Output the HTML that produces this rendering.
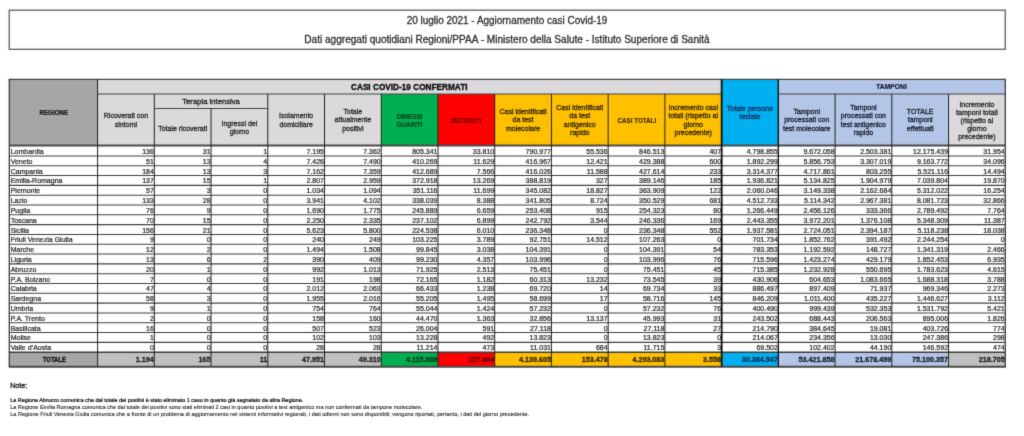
<!DOCTYPE html>
<html><head><meta charset="utf-8"><title>Covid-19 20 luglio 2021</title>
<style>
html,body{margin:0;padding:0;background:#fff;}
body{width:1024px;height:436px;overflow:hidden;position:relative;font-family:"Liberation Sans",Arial,sans-serif;color:#222;}
.b,.ln,.h,.d{position:absolute;box-sizing:border-box;}
.grid{position:absolute;left:0;top:0;}
#wrap{position:absolute;left:0;top:0;width:1024px;height:436px;background:#fff;filter:url(#sb);}
.h,.d,.t1,.t2,.note{-webkit-text-stroke:0.2px currentColor;}
.t1,.t2{-webkit-text-stroke:0.3px currentColor;}
.h{padding-top:2.0px;-webkit-text-stroke:0.3px currentColor;}
.h{display:flex;align-items:center;justify-content:center;text-align:center;font-size:7px;line-height:8.4px;white-space:nowrap;overflow:hidden;color:#1e1e1e;}
.h.mid{font-size:7.7px;}
.h.big{font-size:8.8px;}
.h.reg{font-size:6.85px;}
.h.tam{font-size:6.85px;}
.bold{font-weight:bold;}
.h.bold{color:#141414;-webkit-text-stroke:0.2px currentColor;}
.h.tam{color:#151a2a;}
.h.hb{font-size:7px;-webkit-text-stroke:0.1px currentColor;}
.h.big{-webkit-text-stroke:0.35px currentColor;color:#0e0e0e;}
.d{font-size:7px;white-space:nowrap;overflow:visible;padding:0 0.5px 0 1.4px;color:#2a2a2a;}
.d.r{text-align:right;}
.d.l{text-align:left;}
.d.c{text-align:center;}
.d.tb{font-size:7.2px;padding-right:0.5px;}
.d.tt{font-size:6.85px;}
.d.bold{color:#111;-webkit-text-stroke:0.3px currentColor;}
.d{-webkit-text-stroke:0.24px currentColor;}
.hdr{position:absolute;left:8.8px;top:10.1px;width:997px;height:39.3px;border:1.3px solid #5e5e5e;box-sizing:border-box;}
.t1,.t2{position:absolute;left:0;width:1014px;text-align:center;white-space:nowrap;color:#2e2e2e;line-height:12px;}
.t1{top:14.9px;font-size:10.4px;transform:scaleX(0.957);transform-origin:507px 0;}
.t2{top:34.4px;font-size:10.05px;}
.note{position:absolute;left:10.2px;white-space:nowrap;color:#262626;line-height:6.5px;-webkit-text-stroke:0.1px currentColor !important;}
.note.n1{color:#111;-webkit-text-stroke:0.22px currentColor !important;}
.note.n0{color:#161616;-webkit-text-stroke:0.3px currentColor !important;}
</style></head><body><svg width="0" height="0" style="position:absolute"><filter id="sb" x="0" y="0" width="100%" height="100%" color-interpolation-filters="sRGB"><feConvolveMatrix order="3" kernelMatrix="0.015 0.085 0.015 0.085 0.6 0.085 0.015 0.085 0.015" edgeMode="duplicate" preserveAlpha="true"/></filter></svg><div id="wrap">
<div class="t1">20 luglio 2021 - Aggiornamento casi Covid-19</div>
<div class="t2">Dati aggregati quotidiani Regioni/PPAA - Ministero della Salute - Istituto Superiore di Sanità</div>
<div class="b" style="left:9.30px;top:79.35px;width:88.30px;height:66.10px;background:#a7a5a7;"></div>
<div class="b" style="left:97.60px;top:79.35px;width:624.03px;height:14.61px;background:#dbd9db;"></div>
<div class="b" style="left:721.63px;top:79.35px;width:56.73px;height:66.10px;background:#00b0f0;"></div>
<div class="b" style="left:778.36px;top:79.35px;width:226.92px;height:14.61px;background:#b4c6e7;"></div>
<div class="b" style="left:97.60px;top:93.96px;width:56.73px;height:51.49px;background:#dbd9db;"></div>
<div class="b" style="left:154.33px;top:93.96px;width:56.73px;height:51.49px;background:#dbd9db;"></div>
<div class="b" style="left:211.06px;top:93.96px;width:56.73px;height:51.49px;background:#dbd9db;"></div>
<div class="b" style="left:267.79px;top:93.96px;width:56.73px;height:51.49px;background:#dbd9db;"></div>
<div class="b" style="left:324.52px;top:93.96px;width:56.73px;height:51.49px;background:#dbd9db;"></div>
<div class="b" style="left:381.25px;top:93.96px;width:56.73px;height:51.49px;background:#00b050;"></div>
<div class="b" style="left:437.98px;top:93.96px;width:56.73px;height:51.49px;background:#ff0000;"></div>
<div class="b" style="left:494.71px;top:93.96px;width:56.73px;height:51.49px;background:#ffc000;"></div>
<div class="b" style="left:551.44px;top:93.96px;width:56.73px;height:51.49px;background:#ffc000;"></div>
<div class="b" style="left:608.17px;top:93.96px;width:56.73px;height:51.49px;background:#ffc000;"></div>
<div class="b" style="left:664.90px;top:93.96px;width:56.73px;height:51.49px;background:#ffc000;"></div>
<div class="b" style="left:778.36px;top:93.96px;width:56.73px;height:51.49px;background:#b4c6e7;"></div>
<div class="b" style="left:835.09px;top:93.96px;width:56.73px;height:51.49px;background:#b4c6e7;"></div>
<div class="b" style="left:891.82px;top:93.96px;width:56.73px;height:51.49px;background:#b4c6e7;"></div>
<div class="b" style="left:948.55px;top:93.96px;width:56.73px;height:51.49px;background:#dbd9db;"></div>
<div class="b" style="left:9.30px;top:352.19px;width:88.30px;height:14.56px;background:#a7a5a7;"></div>
<div class="b" style="left:97.60px;top:352.19px;width:56.73px;height:14.56px;background:#c1c0c1;"></div>
<div class="b" style="left:154.33px;top:352.19px;width:56.73px;height:14.56px;background:#c1c0c1;"></div>
<div class="b" style="left:211.06px;top:352.19px;width:56.73px;height:14.56px;background:#c1c0c1;"></div>
<div class="b" style="left:267.79px;top:352.19px;width:56.73px;height:14.56px;background:#c1c0c1;"></div>
<div class="b" style="left:324.52px;top:352.19px;width:56.73px;height:14.56px;background:#c1c0c1;"></div>
<div class="b" style="left:381.25px;top:352.19px;width:56.73px;height:14.56px;background:#00b050;"></div>
<div class="b" style="left:437.98px;top:352.19px;width:56.73px;height:14.56px;background:#ff0000;"></div>
<div class="b" style="left:494.71px;top:352.19px;width:56.73px;height:14.56px;background:#ffc000;"></div>
<div class="b" style="left:551.44px;top:352.19px;width:56.73px;height:14.56px;background:#ffc000;"></div>
<div class="b" style="left:608.17px;top:352.19px;width:56.73px;height:14.56px;background:#ffc000;"></div>
<div class="b" style="left:664.90px;top:352.19px;width:56.73px;height:14.56px;background:#ffc000;"></div>
<div class="b" style="left:721.63px;top:352.19px;width:56.73px;height:14.56px;background:#00b0f0;"></div>
<div class="b" style="left:778.36px;top:352.19px;width:56.73px;height:14.56px;background:#b4c6e7;"></div>
<div class="b" style="left:835.09px;top:352.19px;width:56.73px;height:14.56px;background:#b4c6e7;"></div>
<div class="b" style="left:891.82px;top:352.19px;width:56.73px;height:14.56px;background:#b4c6e7;"></div>
<div class="b" style="left:948.55px;top:352.19px;width:56.73px;height:14.56px;background:#c1c0c1;"></div>
<svg class="grid" width="1024" height="436" viewBox="0 0 1024 436"><line x1="97.60" y1="93.96" x2="721.63" y2="93.96" stroke="#444" stroke-width="1.1"/><line x1="778.36" y1="93.96" x2="1005.28" y2="93.96" stroke="#444" stroke-width="1.1"/><line x1="154.33" y1="108.56" x2="267.79" y2="108.56" stroke="#444" stroke-width="1.1"/><line x1="9.30" y1="155.95" x2="1005.28" y2="155.95" stroke="#404040" stroke-width="1.1"/><line x1="9.30" y1="165.76" x2="1005.28" y2="165.76" stroke="#404040" stroke-width="1.1"/><line x1="9.30" y1="175.57" x2="1005.28" y2="175.57" stroke="#404040" stroke-width="1.1"/><line x1="9.30" y1="185.39" x2="1005.28" y2="185.39" stroke="#404040" stroke-width="1.1"/><line x1="9.30" y1="195.20" x2="1005.28" y2="195.20" stroke="#404040" stroke-width="1.1"/><line x1="9.30" y1="205.01" x2="1005.28" y2="205.01" stroke="#404040" stroke-width="1.1"/><line x1="9.30" y1="214.82" x2="1005.28" y2="214.82" stroke="#404040" stroke-width="1.1"/><line x1="9.30" y1="224.63" x2="1005.28" y2="224.63" stroke="#404040" stroke-width="1.1"/><line x1="9.30" y1="234.45" x2="1005.28" y2="234.45" stroke="#404040" stroke-width="1.1"/><line x1="9.30" y1="244.26" x2="1005.28" y2="244.26" stroke="#404040" stroke-width="1.1"/><line x1="9.30" y1="254.07" x2="1005.28" y2="254.07" stroke="#404040" stroke-width="1.1"/><line x1="9.30" y1="263.88" x2="1005.28" y2="263.88" stroke="#404040" stroke-width="1.1"/><line x1="9.30" y1="273.69" x2="1005.28" y2="273.69" stroke="#404040" stroke-width="1.1"/><line x1="9.30" y1="283.51" x2="1005.28" y2="283.51" stroke="#404040" stroke-width="1.1"/><line x1="9.30" y1="293.32" x2="1005.28" y2="293.32" stroke="#404040" stroke-width="1.1"/><line x1="9.30" y1="303.13" x2="1005.28" y2="303.13" stroke="#404040" stroke-width="1.1"/><line x1="9.30" y1="312.94" x2="1005.28" y2="312.94" stroke="#404040" stroke-width="1.1"/><line x1="9.30" y1="322.75" x2="1005.28" y2="322.75" stroke="#404040" stroke-width="1.1"/><line x1="9.30" y1="332.57" x2="1005.28" y2="332.57" stroke="#404040" stroke-width="1.1"/><line x1="9.30" y1="342.38" x2="1005.28" y2="342.38" stroke="#404040" stroke-width="1.1"/><line x1="9.30" y1="145.45" x2="1005.28" y2="145.45" stroke="#4a4a4a" stroke-width="2.0"/><line x1="9.30" y1="352.19" x2="1005.28" y2="352.19" stroke="#3a3a3a" stroke-width="1.6"/><line x1="8.70" y1="79.35" x2="1005.88" y2="79.35" stroke="#444" stroke-width="1.4"/><line x1="8.70" y1="366.75" x2="1005.88" y2="366.75" stroke="#4a4a4a" stroke-width="1.8"/><line x1="97.60" y1="79.35" x2="97.60" y2="366.75" stroke="#222" stroke-width="1.0"/><line x1="154.33" y1="93.96" x2="154.33" y2="366.75" stroke="#222" stroke-width="1.0"/><line x1="267.79" y1="93.96" x2="267.79" y2="366.75" stroke="#222" stroke-width="1.0"/><line x1="324.52" y1="93.96" x2="324.52" y2="366.75" stroke="#222" stroke-width="1.0"/><line x1="381.25" y1="93.96" x2="381.25" y2="366.75" stroke="#222" stroke-width="1.0"/><line x1="437.98" y1="93.96" x2="437.98" y2="366.75" stroke="#222" stroke-width="1.0"/><line x1="494.71" y1="93.96" x2="494.71" y2="366.75" stroke="#222" stroke-width="1.0"/><line x1="551.44" y1="93.96" x2="551.44" y2="366.75" stroke="#222" stroke-width="1.0"/><line x1="608.17" y1="93.96" x2="608.17" y2="366.75" stroke="#222" stroke-width="1.0"/><line x1="664.90" y1="93.96" x2="664.90" y2="366.75" stroke="#222" stroke-width="1.0"/><line x1="721.63" y1="79.35" x2="721.63" y2="366.75" stroke="#222" stroke-width="1.0"/><line x1="778.36" y1="79.35" x2="778.36" y2="366.75" stroke="#222" stroke-width="1.0"/><line x1="835.09" y1="93.96" x2="835.09" y2="366.75" stroke="#222" stroke-width="1.0"/><line x1="891.82" y1="93.96" x2="891.82" y2="366.75" stroke="#222" stroke-width="1.0"/><line x1="948.55" y1="93.96" x2="948.55" y2="366.75" stroke="#222" stroke-width="1.0"/><line x1="211.06" y1="108.56" x2="211.06" y2="366.75" stroke="#222" stroke-width="1.0"/><line x1="721.63" y1="79.35" x2="721.63" y2="366.75" stroke="#111" stroke-width="1.8"/><line x1="778.36" y1="79.35" x2="778.36" y2="366.75" stroke="#111" stroke-width="1.2"/><line x1="9.30" y1="79.35" x2="9.30" y2="366.75" stroke="#3a3a3a" stroke-width="1.3"/><line x1="1005.28" y1="79.35" x2="1005.28" y2="366.75" stroke="#3a3a3a" stroke-width="1.3"/><rect x="9.25" y="10.2" width="996" height="39.1" fill="none" stroke="#5e5e5e" stroke-width="1.3"/></svg>
<div class="h bold reg" style="left:9.30px;top:79.35px;width:88.30px;height:66.10px;padding-top:0.8px;"><span style="display:inline-block;transform:scaleX(0.905)">REGIONE</span></div>
<div class="h bold big" style="left:97.60px;top:79.35px;width:624.03px;height:14.61px;"><span style="display:inline-block;transform:scaleX(0.936)">CASI COVID-19 CONFERMATI</span></div>
<div class="h bold tam" style="left:778.36px;top:79.35px;width:226.92px;height:14.61px;"><span style="display:inline-block;transform:scaleX(0.985)">TAMPONI</span></div>
<div class="h mid" style="left:154.33px;top:93.96px;width:113.46px;height:14.60px;"><span>Terapia intensiva</span></div>
<div class="h" style="left:97.60px;top:93.96px;width:56.73px;height:51.49px;color:#2a2a2a;"><span>Ricoverati con<br>sintomi</span></div>
<div class="h" style="left:154.33px;top:108.56px;width:56.73px;height:36.89px;color:#2a2a2a;padding-top:4.0px;"><span>Totale ricoverati</span></div>
<div class="h" style="left:211.06px;top:108.56px;width:56.73px;height:36.89px;color:#2a2a2a;"><span>Ingressi del<br>giorno</span></div>
<div class="h" style="left:267.79px;top:93.96px;width:56.73px;height:51.49px;color:#2a2a2a;"><span>Isolamento<br>domiciliare</span></div>
<div class="h" style="left:324.52px;top:93.96px;width:56.73px;height:51.49px;color:#2a2a2a;"><span>Totale<br>attualmente<br>positivi</span></div>
<div class="h bold hb" style="left:381.25px;top:93.96px;width:56.73px;height:51.49px;color:#0b3a1c;padding-top:3.0px;"><span style="display:inline-block;transform:scaleX(0.9)">DIMESSI<br>GUARITI</span></div>
<div class="h bold hb" style="left:437.98px;top:93.96px;width:56.73px;height:51.49px;color:#6a0000;padding-top:3.0px;"><span style="display:inline-block;transform:scaleX(0.85)">DECEDUTI</span></div>
<div class="h" style="left:494.71px;top:93.96px;width:56.73px;height:51.49px;color:#352800;"><span>Casi identificati<br>da test<br>molecolare</span></div>
<div class="h" style="left:551.44px;top:93.96px;width:56.73px;height:51.49px;color:#352800;"><span>Casi identificati<br>da test<br>antigenico<br>rapido</span></div>
<div class="h bold hb" style="left:608.17px;top:93.96px;width:56.73px;height:51.49px;color:#352800;padding-top:3.0px;font-size:7.4px;"><span style="display:inline-block;transform:scaleX(0.843)">CASI TOTALI</span></div>
<div class="h" style="left:664.90px;top:93.96px;width:56.73px;height:51.49px;color:#352800;"><span>Incremento casi<br>totali (rispetto al<br>giorno<br>precedente)</span></div>
<div class="h" style="left:778.36px;top:93.96px;width:56.73px;height:51.49px;color:#181e2c;"><span>Tamponi<br>processati con<br>test molecolare</span></div>
<div class="h" style="left:835.09px;top:93.96px;width:56.73px;height:51.49px;color:#181e2c;"><span>Tamponi<br>processati con<br>test antigenico<br>rapido</span></div>
<div class="h" style="left:891.82px;top:93.96px;width:56.73px;height:51.49px;color:#181e2c;"><span>TOTALE<br>tamponi<br>effettuati</span></div>
<div class="h" style="left:948.55px;top:93.96px;width:56.73px;height:51.49px;color:#2a2a2a;line-height:8.05px;padding-top:3.2px;"><span>Incremento<br>tamponi totali<br>(rispetto al<br>giorno<br>precedente)</span></div>
<div class="h" style="left:721.63px;top:79.35px;width:56.73px;height:66.10px;color:#0d3560;"><span>Totale persone<br>testate</span></div>
<div class="d l" style="left:9.30px;top:148.02px;width:88.30px;height:8.0px;line-height:8.0px">Lombardia</div>
<div class="d r" style="left:97.60px;top:148.02px;width:56.73px;height:8.0px;line-height:8.0px">136</div>
<div class="d r" style="left:154.33px;top:148.02px;width:56.73px;height:8.0px;line-height:8.0px">31</div>
<div class="d r" style="left:211.06px;top:148.02px;width:56.73px;height:8.0px;line-height:8.0px">1</div>
<div class="d r" style="left:267.79px;top:148.02px;width:56.73px;height:8.0px;line-height:8.0px">7.195</div>
<div class="d r" style="left:324.52px;top:148.02px;width:56.73px;height:8.0px;line-height:8.0px">7.362</div>
<div class="d r" style="left:381.25px;top:148.02px;width:56.73px;height:8.0px;line-height:8.0px">805.341</div>
<div class="d r" style="left:437.98px;top:148.02px;width:56.73px;height:8.0px;line-height:8.0px">33.810</div>
<div class="d r" style="left:494.71px;top:148.02px;width:56.73px;height:8.0px;line-height:8.0px">790.977</div>
<div class="d r" style="left:551.44px;top:148.02px;width:56.73px;height:8.0px;line-height:8.0px">55.536</div>
<div class="d r" style="left:608.17px;top:148.02px;width:56.73px;height:8.0px;line-height:8.0px">846.513</div>
<div class="d r" style="left:664.90px;top:148.02px;width:56.73px;height:8.0px;line-height:8.0px">407</div>
<div class="d r" style="left:721.63px;top:148.02px;width:56.73px;height:8.0px;line-height:8.0px">4.798.855</div>
<div class="d r" style="left:778.36px;top:148.02px;width:56.73px;height:8.0px;line-height:8.0px">9.672.058</div>
<div class="d r" style="left:835.09px;top:148.02px;width:56.73px;height:8.0px;line-height:8.0px">2.503.381</div>
<div class="d r" style="left:891.82px;top:148.02px;width:56.73px;height:8.0px;line-height:8.0px">12.175.439</div>
<div class="d r" style="left:948.55px;top:148.02px;width:56.73px;height:8.0px;line-height:8.0px">31.954</div>
<div class="d l" style="left:9.30px;top:157.84px;width:88.30px;height:8.0px;line-height:8.0px">Veneto</div>
<div class="d r" style="left:97.60px;top:157.84px;width:56.73px;height:8.0px;line-height:8.0px">51</div>
<div class="d r" style="left:154.33px;top:157.84px;width:56.73px;height:8.0px;line-height:8.0px">13</div>
<div class="d r" style="left:211.06px;top:157.84px;width:56.73px;height:8.0px;line-height:8.0px">4</div>
<div class="d r" style="left:267.79px;top:157.84px;width:56.73px;height:8.0px;line-height:8.0px">7.426</div>
<div class="d r" style="left:324.52px;top:157.84px;width:56.73px;height:8.0px;line-height:8.0px">7.490</div>
<div class="d r" style="left:381.25px;top:157.84px;width:56.73px;height:8.0px;line-height:8.0px">410.269</div>
<div class="d r" style="left:437.98px;top:157.84px;width:56.73px;height:8.0px;line-height:8.0px">11.629</div>
<div class="d r" style="left:494.71px;top:157.84px;width:56.73px;height:8.0px;line-height:8.0px">416.967</div>
<div class="d r" style="left:551.44px;top:157.84px;width:56.73px;height:8.0px;line-height:8.0px">12.421</div>
<div class="d r" style="left:608.17px;top:157.84px;width:56.73px;height:8.0px;line-height:8.0px">429.388</div>
<div class="d r" style="left:664.90px;top:157.84px;width:56.73px;height:8.0px;line-height:8.0px">600</div>
<div class="d r" style="left:721.63px;top:157.84px;width:56.73px;height:8.0px;line-height:8.0px">1.892.299</div>
<div class="d r" style="left:778.36px;top:157.84px;width:56.73px;height:8.0px;line-height:8.0px">5.856.753</div>
<div class="d r" style="left:835.09px;top:157.84px;width:56.73px;height:8.0px;line-height:8.0px">3.307.019</div>
<div class="d r" style="left:891.82px;top:157.84px;width:56.73px;height:8.0px;line-height:8.0px">9.163.772</div>
<div class="d r" style="left:948.55px;top:157.84px;width:56.73px;height:8.0px;line-height:8.0px">34.096</div>
<div class="d l" style="left:9.30px;top:167.65px;width:88.30px;height:8.0px;line-height:8.0px">Campania</div>
<div class="d r" style="left:97.60px;top:167.65px;width:56.73px;height:8.0px;line-height:8.0px">184</div>
<div class="d r" style="left:154.33px;top:167.65px;width:56.73px;height:8.0px;line-height:8.0px">13</div>
<div class="d r" style="left:211.06px;top:167.65px;width:56.73px;height:8.0px;line-height:8.0px">3</div>
<div class="d r" style="left:267.79px;top:167.65px;width:56.73px;height:8.0px;line-height:8.0px">7.162</div>
<div class="d r" style="left:324.52px;top:167.65px;width:56.73px;height:8.0px;line-height:8.0px">7.359</div>
<div class="d r" style="left:381.25px;top:167.65px;width:56.73px;height:8.0px;line-height:8.0px">412.689</div>
<div class="d r" style="left:437.98px;top:167.65px;width:56.73px;height:8.0px;line-height:8.0px">7.566</div>
<div class="d r" style="left:494.71px;top:167.65px;width:56.73px;height:8.0px;line-height:8.0px">416.026</div>
<div class="d r" style="left:551.44px;top:167.65px;width:56.73px;height:8.0px;line-height:8.0px">11.588</div>
<div class="d r" style="left:608.17px;top:167.65px;width:56.73px;height:8.0px;line-height:8.0px">427.614</div>
<div class="d r" style="left:664.90px;top:167.65px;width:56.73px;height:8.0px;line-height:8.0px">233</div>
<div class="d r" style="left:721.63px;top:167.65px;width:56.73px;height:8.0px;line-height:8.0px">3.314.377</div>
<div class="d r" style="left:778.36px;top:167.65px;width:56.73px;height:8.0px;line-height:8.0px">4.717.861</div>
<div class="d r" style="left:835.09px;top:167.65px;width:56.73px;height:8.0px;line-height:8.0px">803.255</div>
<div class="d r" style="left:891.82px;top:167.65px;width:56.73px;height:8.0px;line-height:8.0px">5.521.116</div>
<div class="d r" style="left:948.55px;top:167.65px;width:56.73px;height:8.0px;line-height:8.0px">14.494</div>
<div class="d l" style="left:9.30px;top:177.46px;width:88.30px;height:8.0px;line-height:8.0px">Emilia-Romagna</div>
<div class="d r" style="left:97.60px;top:177.46px;width:56.73px;height:8.0px;line-height:8.0px">137</div>
<div class="d r" style="left:154.33px;top:177.46px;width:56.73px;height:8.0px;line-height:8.0px">15</div>
<div class="d r" style="left:211.06px;top:177.46px;width:56.73px;height:8.0px;line-height:8.0px">1</div>
<div class="d r" style="left:267.79px;top:177.46px;width:56.73px;height:8.0px;line-height:8.0px">2.807</div>
<div class="d r" style="left:324.52px;top:177.46px;width:56.73px;height:8.0px;line-height:8.0px">2.959</div>
<div class="d r" style="left:381.25px;top:177.46px;width:56.73px;height:8.0px;line-height:8.0px">372.918</div>
<div class="d r" style="left:437.98px;top:177.46px;width:56.73px;height:8.0px;line-height:8.0px">13.269</div>
<div class="d r" style="left:494.71px;top:177.46px;width:56.73px;height:8.0px;line-height:8.0px">388.819</div>
<div class="d r" style="left:551.44px;top:177.46px;width:56.73px;height:8.0px;line-height:8.0px">327</div>
<div class="d r" style="left:608.17px;top:177.46px;width:56.73px;height:8.0px;line-height:8.0px">389.146</div>
<div class="d r" style="left:664.90px;top:177.46px;width:56.73px;height:8.0px;line-height:8.0px">185</div>
<div class="d r" style="left:721.63px;top:177.46px;width:56.73px;height:8.0px;line-height:8.0px">1.936.821</div>
<div class="d r" style="left:778.36px;top:177.46px;width:56.73px;height:8.0px;line-height:8.0px">5.134.825</div>
<div class="d r" style="left:835.09px;top:177.46px;width:56.73px;height:8.0px;line-height:8.0px">1.904.979</div>
<div class="d r" style="left:891.82px;top:177.46px;width:56.73px;height:8.0px;line-height:8.0px">7.039.804</div>
<div class="d r" style="left:948.55px;top:177.46px;width:56.73px;height:8.0px;line-height:8.0px">19.870</div>
<div class="d l" style="left:9.30px;top:187.27px;width:88.30px;height:8.0px;line-height:8.0px">Piemonte</div>
<div class="d r" style="left:97.60px;top:187.27px;width:56.73px;height:8.0px;line-height:8.0px">57</div>
<div class="d r" style="left:154.33px;top:187.27px;width:56.73px;height:8.0px;line-height:8.0px">3</div>
<div class="d r" style="left:211.06px;top:187.27px;width:56.73px;height:8.0px;line-height:8.0px">0</div>
<div class="d r" style="left:267.79px;top:187.27px;width:56.73px;height:8.0px;line-height:8.0px">1.034</div>
<div class="d r" style="left:324.52px;top:187.27px;width:56.73px;height:8.0px;line-height:8.0px">1.094</div>
<div class="d r" style="left:381.25px;top:187.27px;width:56.73px;height:8.0px;line-height:8.0px">351.116</div>
<div class="d r" style="left:437.98px;top:187.27px;width:56.73px;height:8.0px;line-height:8.0px">11.699</div>
<div class="d r" style="left:494.71px;top:187.27px;width:56.73px;height:8.0px;line-height:8.0px">345.082</div>
<div class="d r" style="left:551.44px;top:187.27px;width:56.73px;height:8.0px;line-height:8.0px">18.827</div>
<div class="d r" style="left:608.17px;top:187.27px;width:56.73px;height:8.0px;line-height:8.0px">363.909</div>
<div class="d r" style="left:664.90px;top:187.27px;width:56.73px;height:8.0px;line-height:8.0px">122</div>
<div class="d r" style="left:721.63px;top:187.27px;width:56.73px;height:8.0px;line-height:8.0px">2.060.046</div>
<div class="d r" style="left:778.36px;top:187.27px;width:56.73px;height:8.0px;line-height:8.0px">3.149.338</div>
<div class="d r" style="left:835.09px;top:187.27px;width:56.73px;height:8.0px;line-height:8.0px">2.162.684</div>
<div class="d r" style="left:891.82px;top:187.27px;width:56.73px;height:8.0px;line-height:8.0px">5.312.022</div>
<div class="d r" style="left:948.55px;top:187.27px;width:56.73px;height:8.0px;line-height:8.0px">16.254</div>
<div class="d l" style="left:9.30px;top:197.08px;width:88.30px;height:8.0px;line-height:8.0px">Lazio</div>
<div class="d r" style="left:97.60px;top:197.08px;width:56.73px;height:8.0px;line-height:8.0px">133</div>
<div class="d r" style="left:154.33px;top:197.08px;width:56.73px;height:8.0px;line-height:8.0px">28</div>
<div class="d r" style="left:211.06px;top:197.08px;width:56.73px;height:8.0px;line-height:8.0px">0</div>
<div class="d r" style="left:267.79px;top:197.08px;width:56.73px;height:8.0px;line-height:8.0px">3.941</div>
<div class="d r" style="left:324.52px;top:197.08px;width:56.73px;height:8.0px;line-height:8.0px">4.102</div>
<div class="d r" style="left:381.25px;top:197.08px;width:56.73px;height:8.0px;line-height:8.0px">338.039</div>
<div class="d r" style="left:437.98px;top:197.08px;width:56.73px;height:8.0px;line-height:8.0px">8.388</div>
<div class="d r" style="left:494.71px;top:197.08px;width:56.73px;height:8.0px;line-height:8.0px">341.805</div>
<div class="d r" style="left:551.44px;top:197.08px;width:56.73px;height:8.0px;line-height:8.0px">8.724</div>
<div class="d r" style="left:608.17px;top:197.08px;width:56.73px;height:8.0px;line-height:8.0px">350.529</div>
<div class="d r" style="left:664.90px;top:197.08px;width:56.73px;height:8.0px;line-height:8.0px">681</div>
<div class="d r" style="left:721.63px;top:197.08px;width:56.73px;height:8.0px;line-height:8.0px">4.512.733</div>
<div class="d r" style="left:778.36px;top:197.08px;width:56.73px;height:8.0px;line-height:8.0px">5.114.342</div>
<div class="d r" style="left:835.09px;top:197.08px;width:56.73px;height:8.0px;line-height:8.0px">2.967.381</div>
<div class="d r" style="left:891.82px;top:197.08px;width:56.73px;height:8.0px;line-height:8.0px">8.081.723</div>
<div class="d r" style="left:948.55px;top:197.08px;width:56.73px;height:8.0px;line-height:8.0px">32.866</div>
<div class="d l" style="left:9.30px;top:206.90px;width:88.30px;height:8.0px;line-height:8.0px">Puglia</div>
<div class="d r" style="left:97.60px;top:206.90px;width:56.73px;height:8.0px;line-height:8.0px">76</div>
<div class="d r" style="left:154.33px;top:206.90px;width:56.73px;height:8.0px;line-height:8.0px">9</div>
<div class="d r" style="left:211.06px;top:206.90px;width:56.73px;height:8.0px;line-height:8.0px">0</div>
<div class="d r" style="left:267.79px;top:206.90px;width:56.73px;height:8.0px;line-height:8.0px">1.690</div>
<div class="d r" style="left:324.52px;top:206.90px;width:56.73px;height:8.0px;line-height:8.0px">1.775</div>
<div class="d r" style="left:381.25px;top:206.90px;width:56.73px;height:8.0px;line-height:8.0px">245.889</div>
<div class="d r" style="left:437.98px;top:206.90px;width:56.73px;height:8.0px;line-height:8.0px">6.659</div>
<div class="d r" style="left:494.71px;top:206.90px;width:56.73px;height:8.0px;line-height:8.0px">253.408</div>
<div class="d r" style="left:551.44px;top:206.90px;width:56.73px;height:8.0px;line-height:8.0px">915</div>
<div class="d r" style="left:608.17px;top:206.90px;width:56.73px;height:8.0px;line-height:8.0px">254.323</div>
<div class="d r" style="left:664.90px;top:206.90px;width:56.73px;height:8.0px;line-height:8.0px">80</div>
<div class="d r" style="left:721.63px;top:206.90px;width:56.73px;height:8.0px;line-height:8.0px">1.266.449</div>
<div class="d r" style="left:778.36px;top:206.90px;width:56.73px;height:8.0px;line-height:8.0px">2.456.126</div>
<div class="d r" style="left:835.09px;top:206.90px;width:56.73px;height:8.0px;line-height:8.0px">333.366</div>
<div class="d r" style="left:891.82px;top:206.90px;width:56.73px;height:8.0px;line-height:8.0px">2.789.492</div>
<div class="d r" style="left:948.55px;top:206.90px;width:56.73px;height:8.0px;line-height:8.0px">7.764</div>
<div class="d l" style="left:9.30px;top:216.71px;width:88.30px;height:8.0px;line-height:8.0px">Toscana</div>
<div class="d r" style="left:97.60px;top:216.71px;width:56.73px;height:8.0px;line-height:8.0px">70</div>
<div class="d r" style="left:154.33px;top:216.71px;width:56.73px;height:8.0px;line-height:8.0px">15</div>
<div class="d r" style="left:211.06px;top:216.71px;width:56.73px;height:8.0px;line-height:8.0px">0</div>
<div class="d r" style="left:267.79px;top:216.71px;width:56.73px;height:8.0px;line-height:8.0px">2.250</div>
<div class="d r" style="left:324.52px;top:216.71px;width:56.73px;height:8.0px;line-height:8.0px">2.335</div>
<div class="d r" style="left:381.25px;top:216.71px;width:56.73px;height:8.0px;line-height:8.0px">237.102</div>
<div class="d r" style="left:437.98px;top:216.71px;width:56.73px;height:8.0px;line-height:8.0px">6.899</div>
<div class="d r" style="left:494.71px;top:216.71px;width:56.73px;height:8.0px;line-height:8.0px">242.792</div>
<div class="d r" style="left:551.44px;top:216.71px;width:56.73px;height:8.0px;line-height:8.0px">3.544</div>
<div class="d r" style="left:608.17px;top:216.71px;width:56.73px;height:8.0px;line-height:8.0px">246.336</div>
<div class="d r" style="left:664.90px;top:216.71px;width:56.73px;height:8.0px;line-height:8.0px">169</div>
<div class="d r" style="left:721.63px;top:216.71px;width:56.73px;height:8.0px;line-height:8.0px">2.443.355</div>
<div class="d r" style="left:778.36px;top:216.71px;width:56.73px;height:8.0px;line-height:8.0px">3.972.201</div>
<div class="d r" style="left:835.09px;top:216.71px;width:56.73px;height:8.0px;line-height:8.0px">1.376.108</div>
<div class="d r" style="left:891.82px;top:216.71px;width:56.73px;height:8.0px;line-height:8.0px">5.348.309</div>
<div class="d r" style="left:948.55px;top:216.71px;width:56.73px;height:8.0px;line-height:8.0px">11.387</div>
<div class="d l" style="left:9.30px;top:226.52px;width:88.30px;height:8.0px;line-height:8.0px">Sicilia</div>
<div class="d r" style="left:97.60px;top:226.52px;width:56.73px;height:8.0px;line-height:8.0px">156</div>
<div class="d r" style="left:154.33px;top:226.52px;width:56.73px;height:8.0px;line-height:8.0px">21</div>
<div class="d r" style="left:211.06px;top:226.52px;width:56.73px;height:8.0px;line-height:8.0px">0</div>
<div class="d r" style="left:267.79px;top:226.52px;width:56.73px;height:8.0px;line-height:8.0px">5.623</div>
<div class="d r" style="left:324.52px;top:226.52px;width:56.73px;height:8.0px;line-height:8.0px">5.800</div>
<div class="d r" style="left:381.25px;top:226.52px;width:56.73px;height:8.0px;line-height:8.0px">224.538</div>
<div class="d r" style="left:437.98px;top:226.52px;width:56.73px;height:8.0px;line-height:8.0px">6.010</div>
<div class="d r" style="left:494.71px;top:226.52px;width:56.73px;height:8.0px;line-height:8.0px">236.348</div>
<div class="d r" style="left:551.44px;top:226.52px;width:56.73px;height:8.0px;line-height:8.0px">0</div>
<div class="d r" style="left:608.17px;top:226.52px;width:56.73px;height:8.0px;line-height:8.0px">236.348</div>
<div class="d r" style="left:664.90px;top:226.52px;width:56.73px;height:8.0px;line-height:8.0px">552</div>
<div class="d r" style="left:721.63px;top:226.52px;width:56.73px;height:8.0px;line-height:8.0px">1.937.581</div>
<div class="d r" style="left:778.36px;top:226.52px;width:56.73px;height:8.0px;line-height:8.0px">2.724.051</div>
<div class="d r" style="left:835.09px;top:226.52px;width:56.73px;height:8.0px;line-height:8.0px">2.394.187</div>
<div class="d r" style="left:891.82px;top:226.52px;width:56.73px;height:8.0px;line-height:8.0px">5.118.238</div>
<div class="d r" style="left:948.55px;top:226.52px;width:56.73px;height:8.0px;line-height:8.0px">18.038</div>
<div class="d l" style="left:9.30px;top:236.33px;width:88.30px;height:8.0px;line-height:8.0px">Friuli Venezia Giulia</div>
<div class="d r" style="left:97.60px;top:236.33px;width:56.73px;height:8.0px;line-height:8.0px">9</div>
<div class="d r" style="left:154.33px;top:236.33px;width:56.73px;height:8.0px;line-height:8.0px">0</div>
<div class="d r" style="left:211.06px;top:236.33px;width:56.73px;height:8.0px;line-height:8.0px">0</div>
<div class="d r" style="left:267.79px;top:236.33px;width:56.73px;height:8.0px;line-height:8.0px">240</div>
<div class="d r" style="left:324.52px;top:236.33px;width:56.73px;height:8.0px;line-height:8.0px">249</div>
<div class="d r" style="left:381.25px;top:236.33px;width:56.73px;height:8.0px;line-height:8.0px">103.225</div>
<div class="d r" style="left:437.98px;top:236.33px;width:56.73px;height:8.0px;line-height:8.0px">3.789</div>
<div class="d r" style="left:494.71px;top:236.33px;width:56.73px;height:8.0px;line-height:8.0px">92.751</div>
<div class="d r" style="left:551.44px;top:236.33px;width:56.73px;height:8.0px;line-height:8.0px">14.512</div>
<div class="d r" style="left:608.17px;top:236.33px;width:56.73px;height:8.0px;line-height:8.0px">107.263</div>
<div class="d r" style="left:664.90px;top:236.33px;width:56.73px;height:8.0px;line-height:8.0px">0</div>
<div class="d r" style="left:721.63px;top:236.33px;width:56.73px;height:8.0px;line-height:8.0px">701.734</div>
<div class="d r" style="left:778.36px;top:236.33px;width:56.73px;height:8.0px;line-height:8.0px">1.852.762</div>
<div class="d r" style="left:835.09px;top:236.33px;width:56.73px;height:8.0px;line-height:8.0px">391.492</div>
<div class="d r" style="left:891.82px;top:236.33px;width:56.73px;height:8.0px;line-height:8.0px">2.244.254</div>
<div class="d r" style="left:948.55px;top:236.33px;width:56.73px;height:8.0px;line-height:8.0px">0</div>
<div class="d l" style="left:9.30px;top:246.14px;width:88.30px;height:8.0px;line-height:8.0px">Marche</div>
<div class="d r" style="left:97.60px;top:246.14px;width:56.73px;height:8.0px;line-height:8.0px">12</div>
<div class="d r" style="left:154.33px;top:246.14px;width:56.73px;height:8.0px;line-height:8.0px">2</div>
<div class="d r" style="left:211.06px;top:246.14px;width:56.73px;height:8.0px;line-height:8.0px">0</div>
<div class="d r" style="left:267.79px;top:246.14px;width:56.73px;height:8.0px;line-height:8.0px">1.494</div>
<div class="d r" style="left:324.52px;top:246.14px;width:56.73px;height:8.0px;line-height:8.0px">1.508</div>
<div class="d r" style="left:381.25px;top:246.14px;width:56.73px;height:8.0px;line-height:8.0px">99.845</div>
<div class="d r" style="left:437.98px;top:246.14px;width:56.73px;height:8.0px;line-height:8.0px">3.038</div>
<div class="d r" style="left:494.71px;top:246.14px;width:56.73px;height:8.0px;line-height:8.0px">104.391</div>
<div class="d r" style="left:551.44px;top:246.14px;width:56.73px;height:8.0px;line-height:8.0px">0</div>
<div class="d r" style="left:608.17px;top:246.14px;width:56.73px;height:8.0px;line-height:8.0px">104.391</div>
<div class="d r" style="left:664.90px;top:246.14px;width:56.73px;height:8.0px;line-height:8.0px">54</div>
<div class="d r" style="left:721.63px;top:246.14px;width:56.73px;height:8.0px;line-height:8.0px">783.353</div>
<div class="d r" style="left:778.36px;top:246.14px;width:56.73px;height:8.0px;line-height:8.0px">1.192.592</div>
<div class="d r" style="left:835.09px;top:246.14px;width:56.73px;height:8.0px;line-height:8.0px">148.727</div>
<div class="d r" style="left:891.82px;top:246.14px;width:56.73px;height:8.0px;line-height:8.0px">1.341.319</div>
<div class="d r" style="left:948.55px;top:246.14px;width:56.73px;height:8.0px;line-height:8.0px">2.466</div>
<div class="d l" style="left:9.30px;top:255.96px;width:88.30px;height:8.0px;line-height:8.0px">Liguria</div>
<div class="d r" style="left:97.60px;top:255.96px;width:56.73px;height:8.0px;line-height:8.0px">13</div>
<div class="d r" style="left:154.33px;top:255.96px;width:56.73px;height:8.0px;line-height:8.0px">6</div>
<div class="d r" style="left:211.06px;top:255.96px;width:56.73px;height:8.0px;line-height:8.0px">2</div>
<div class="d r" style="left:267.79px;top:255.96px;width:56.73px;height:8.0px;line-height:8.0px">390</div>
<div class="d r" style="left:324.52px;top:255.96px;width:56.73px;height:8.0px;line-height:8.0px">409</div>
<div class="d r" style="left:381.25px;top:255.96px;width:56.73px;height:8.0px;line-height:8.0px">99.230</div>
<div class="d r" style="left:437.98px;top:255.96px;width:56.73px;height:8.0px;line-height:8.0px">4.357</div>
<div class="d r" style="left:494.71px;top:255.96px;width:56.73px;height:8.0px;line-height:8.0px">103.996</div>
<div class="d r" style="left:551.44px;top:255.96px;width:56.73px;height:8.0px;line-height:8.0px">0</div>
<div class="d r" style="left:608.17px;top:255.96px;width:56.73px;height:8.0px;line-height:8.0px">103.996</div>
<div class="d r" style="left:664.90px;top:255.96px;width:56.73px;height:8.0px;line-height:8.0px">76</div>
<div class="d r" style="left:721.63px;top:255.96px;width:56.73px;height:8.0px;line-height:8.0px">715.596</div>
<div class="d r" style="left:778.36px;top:255.96px;width:56.73px;height:8.0px;line-height:8.0px">1.423.274</div>
<div class="d r" style="left:835.09px;top:255.96px;width:56.73px;height:8.0px;line-height:8.0px">429.179</div>
<div class="d r" style="left:891.82px;top:255.96px;width:56.73px;height:8.0px;line-height:8.0px">1.852.453</div>
<div class="d r" style="left:948.55px;top:255.96px;width:56.73px;height:8.0px;line-height:8.0px">6.935</div>
<div class="d l" style="left:9.30px;top:265.77px;width:88.30px;height:8.0px;line-height:8.0px">Abruzzo</div>
<div class="d r" style="left:97.60px;top:265.77px;width:56.73px;height:8.0px;line-height:8.0px">20</div>
<div class="d r" style="left:154.33px;top:265.77px;width:56.73px;height:8.0px;line-height:8.0px">1</div>
<div class="d r" style="left:211.06px;top:265.77px;width:56.73px;height:8.0px;line-height:8.0px">0</div>
<div class="d r" style="left:267.79px;top:265.77px;width:56.73px;height:8.0px;line-height:8.0px">992</div>
<div class="d r" style="left:324.52px;top:265.77px;width:56.73px;height:8.0px;line-height:8.0px">1.013</div>
<div class="d r" style="left:381.25px;top:265.77px;width:56.73px;height:8.0px;line-height:8.0px">71.925</div>
<div class="d r" style="left:437.98px;top:265.77px;width:56.73px;height:8.0px;line-height:8.0px">2.513</div>
<div class="d r" style="left:494.71px;top:265.77px;width:56.73px;height:8.0px;line-height:8.0px">75.451</div>
<div class="d r" style="left:551.44px;top:265.77px;width:56.73px;height:8.0px;line-height:8.0px">0</div>
<div class="d r" style="left:608.17px;top:265.77px;width:56.73px;height:8.0px;line-height:8.0px">75.451</div>
<div class="d r" style="left:664.90px;top:265.77px;width:56.73px;height:8.0px;line-height:8.0px">45</div>
<div class="d r" style="left:721.63px;top:265.77px;width:56.73px;height:8.0px;line-height:8.0px">715.385</div>
<div class="d r" style="left:778.36px;top:265.77px;width:56.73px;height:8.0px;line-height:8.0px">1.232.928</div>
<div class="d r" style="left:835.09px;top:265.77px;width:56.73px;height:8.0px;line-height:8.0px">550.695</div>
<div class="d r" style="left:891.82px;top:265.77px;width:56.73px;height:8.0px;line-height:8.0px">1.783.623</div>
<div class="d r" style="left:948.55px;top:265.77px;width:56.73px;height:8.0px;line-height:8.0px">4.615</div>
<div class="d l" style="left:9.30px;top:275.58px;width:88.30px;height:8.0px;line-height:8.0px">P.A. Bolzano</div>
<div class="d r" style="left:97.60px;top:275.58px;width:56.73px;height:8.0px;line-height:8.0px">7</div>
<div class="d r" style="left:154.33px;top:275.58px;width:56.73px;height:8.0px;line-height:8.0px">0</div>
<div class="d r" style="left:211.06px;top:275.58px;width:56.73px;height:8.0px;line-height:8.0px">0</div>
<div class="d r" style="left:267.79px;top:275.58px;width:56.73px;height:8.0px;line-height:8.0px">191</div>
<div class="d r" style="left:324.52px;top:275.58px;width:56.73px;height:8.0px;line-height:8.0px">198</div>
<div class="d r" style="left:381.25px;top:275.58px;width:56.73px;height:8.0px;line-height:8.0px">72.165</div>
<div class="d r" style="left:437.98px;top:275.58px;width:56.73px;height:8.0px;line-height:8.0px">1.182</div>
<div class="d r" style="left:494.71px;top:275.58px;width:56.73px;height:8.0px;line-height:8.0px">60.313</div>
<div class="d r" style="left:551.44px;top:275.58px;width:56.73px;height:8.0px;line-height:8.0px">13.232</div>
<div class="d r" style="left:608.17px;top:275.58px;width:56.73px;height:8.0px;line-height:8.0px">73.545</div>
<div class="d r" style="left:664.90px;top:275.58px;width:56.73px;height:8.0px;line-height:8.0px">39</div>
<div class="d r" style="left:721.63px;top:275.58px;width:56.73px;height:8.0px;line-height:8.0px">430.906</div>
<div class="d r" style="left:778.36px;top:275.58px;width:56.73px;height:8.0px;line-height:8.0px">604.653</div>
<div class="d r" style="left:835.09px;top:275.58px;width:56.73px;height:8.0px;line-height:8.0px">1.083.665</div>
<div class="d r" style="left:891.82px;top:275.58px;width:56.73px;height:8.0px;line-height:8.0px">1.688.318</div>
<div class="d r" style="left:948.55px;top:275.58px;width:56.73px;height:8.0px;line-height:8.0px">3.788</div>
<div class="d l" style="left:9.30px;top:285.39px;width:88.30px;height:8.0px;line-height:8.0px">Calabria</div>
<div class="d r" style="left:97.60px;top:285.39px;width:56.73px;height:8.0px;line-height:8.0px">47</div>
<div class="d r" style="left:154.33px;top:285.39px;width:56.73px;height:8.0px;line-height:8.0px">4</div>
<div class="d r" style="left:211.06px;top:285.39px;width:56.73px;height:8.0px;line-height:8.0px">0</div>
<div class="d r" style="left:267.79px;top:285.39px;width:56.73px;height:8.0px;line-height:8.0px">2.012</div>
<div class="d r" style="left:324.52px;top:285.39px;width:56.73px;height:8.0px;line-height:8.0px">2.063</div>
<div class="d r" style="left:381.25px;top:285.39px;width:56.73px;height:8.0px;line-height:8.0px">66.433</div>
<div class="d r" style="left:437.98px;top:285.39px;width:56.73px;height:8.0px;line-height:8.0px">1.238</div>
<div class="d r" style="left:494.71px;top:285.39px;width:56.73px;height:8.0px;line-height:8.0px">69.720</div>
<div class="d r" style="left:551.44px;top:285.39px;width:56.73px;height:8.0px;line-height:8.0px">14</div>
<div class="d r" style="left:608.17px;top:285.39px;width:56.73px;height:8.0px;line-height:8.0px">69.734</div>
<div class="d r" style="left:664.90px;top:285.39px;width:56.73px;height:8.0px;line-height:8.0px">33</div>
<div class="d r" style="left:721.63px;top:285.39px;width:56.73px;height:8.0px;line-height:8.0px">886.497</div>
<div class="d r" style="left:778.36px;top:285.39px;width:56.73px;height:8.0px;line-height:8.0px">897.409</div>
<div class="d r" style="left:835.09px;top:285.39px;width:56.73px;height:8.0px;line-height:8.0px">71.937</div>
<div class="d r" style="left:891.82px;top:285.39px;width:56.73px;height:8.0px;line-height:8.0px">969.346</div>
<div class="d r" style="left:948.55px;top:285.39px;width:56.73px;height:8.0px;line-height:8.0px">2.273</div>
<div class="d l" style="left:9.30px;top:295.20px;width:88.30px;height:8.0px;line-height:8.0px">Sardegna</div>
<div class="d r" style="left:97.60px;top:295.20px;width:56.73px;height:8.0px;line-height:8.0px">58</div>
<div class="d r" style="left:154.33px;top:295.20px;width:56.73px;height:8.0px;line-height:8.0px">3</div>
<div class="d r" style="left:211.06px;top:295.20px;width:56.73px;height:8.0px;line-height:8.0px">0</div>
<div class="d r" style="left:267.79px;top:295.20px;width:56.73px;height:8.0px;line-height:8.0px">1.955</div>
<div class="d r" style="left:324.52px;top:295.20px;width:56.73px;height:8.0px;line-height:8.0px">2.016</div>
<div class="d r" style="left:381.25px;top:295.20px;width:56.73px;height:8.0px;line-height:8.0px">55.205</div>
<div class="d r" style="left:437.98px;top:295.20px;width:56.73px;height:8.0px;line-height:8.0px">1.495</div>
<div class="d r" style="left:494.71px;top:295.20px;width:56.73px;height:8.0px;line-height:8.0px">58.699</div>
<div class="d r" style="left:551.44px;top:295.20px;width:56.73px;height:8.0px;line-height:8.0px">17</div>
<div class="d r" style="left:608.17px;top:295.20px;width:56.73px;height:8.0px;line-height:8.0px">58.716</div>
<div class="d r" style="left:664.90px;top:295.20px;width:56.73px;height:8.0px;line-height:8.0px">145</div>
<div class="d r" style="left:721.63px;top:295.20px;width:56.73px;height:8.0px;line-height:8.0px">846.209</div>
<div class="d r" style="left:778.36px;top:295.20px;width:56.73px;height:8.0px;line-height:8.0px">1.011.400</div>
<div class="d r" style="left:835.09px;top:295.20px;width:56.73px;height:8.0px;line-height:8.0px">435.227</div>
<div class="d r" style="left:891.82px;top:295.20px;width:56.73px;height:8.0px;line-height:8.0px">1.446.627</div>
<div class="d r" style="left:948.55px;top:295.20px;width:56.73px;height:8.0px;line-height:8.0px">3.112</div>
<div class="d l" style="left:9.30px;top:305.02px;width:88.30px;height:8.0px;line-height:8.0px">Umbria</div>
<div class="d r" style="left:97.60px;top:305.02px;width:56.73px;height:8.0px;line-height:8.0px">9</div>
<div class="d r" style="left:154.33px;top:305.02px;width:56.73px;height:8.0px;line-height:8.0px">1</div>
<div class="d r" style="left:211.06px;top:305.02px;width:56.73px;height:8.0px;line-height:8.0px">0</div>
<div class="d r" style="left:267.79px;top:305.02px;width:56.73px;height:8.0px;line-height:8.0px">754</div>
<div class="d r" style="left:324.52px;top:305.02px;width:56.73px;height:8.0px;line-height:8.0px">764</div>
<div class="d r" style="left:381.25px;top:305.02px;width:56.73px;height:8.0px;line-height:8.0px">55.044</div>
<div class="d r" style="left:437.98px;top:305.02px;width:56.73px;height:8.0px;line-height:8.0px">1.424</div>
<div class="d r" style="left:494.71px;top:305.02px;width:56.73px;height:8.0px;line-height:8.0px">57.232</div>
<div class="d r" style="left:551.44px;top:305.02px;width:56.73px;height:8.0px;line-height:8.0px">0</div>
<div class="d r" style="left:608.17px;top:305.02px;width:56.73px;height:8.0px;line-height:8.0px">57.232</div>
<div class="d r" style="left:664.90px;top:305.02px;width:56.73px;height:8.0px;line-height:8.0px">76</div>
<div class="d r" style="left:721.63px;top:305.02px;width:56.73px;height:8.0px;line-height:8.0px">400.490</div>
<div class="d r" style="left:778.36px;top:305.02px;width:56.73px;height:8.0px;line-height:8.0px">999.439</div>
<div class="d r" style="left:835.09px;top:305.02px;width:56.73px;height:8.0px;line-height:8.0px">532.353</div>
<div class="d r" style="left:891.82px;top:305.02px;width:56.73px;height:8.0px;line-height:8.0px">1.531.792</div>
<div class="d r" style="left:948.55px;top:305.02px;width:56.73px;height:8.0px;line-height:8.0px">5.421</div>
<div class="d l" style="left:9.30px;top:314.83px;width:88.30px;height:8.0px;line-height:8.0px">P.A. Trento</div>
<div class="d r" style="left:97.60px;top:314.83px;width:56.73px;height:8.0px;line-height:8.0px">2</div>
<div class="d r" style="left:154.33px;top:314.83px;width:56.73px;height:8.0px;line-height:8.0px">0</div>
<div class="d r" style="left:211.06px;top:314.83px;width:56.73px;height:8.0px;line-height:8.0px">0</div>
<div class="d r" style="left:267.79px;top:314.83px;width:56.73px;height:8.0px;line-height:8.0px">158</div>
<div class="d r" style="left:324.52px;top:314.83px;width:56.73px;height:8.0px;line-height:8.0px">160</div>
<div class="d r" style="left:381.25px;top:314.83px;width:56.73px;height:8.0px;line-height:8.0px">44.470</div>
<div class="d r" style="left:437.98px;top:314.83px;width:56.73px;height:8.0px;line-height:8.0px">1.363</div>
<div class="d r" style="left:494.71px;top:314.83px;width:56.73px;height:8.0px;line-height:8.0px">32.856</div>
<div class="d r" style="left:551.44px;top:314.83px;width:56.73px;height:8.0px;line-height:8.0px">13.137</div>
<div class="d r" style="left:608.17px;top:314.83px;width:56.73px;height:8.0px;line-height:8.0px">45.993</div>
<div class="d r" style="left:664.90px;top:314.83px;width:56.73px;height:8.0px;line-height:8.0px">31</div>
<div class="d r" style="left:721.63px;top:314.83px;width:56.73px;height:8.0px;line-height:8.0px">243.502</div>
<div class="d r" style="left:778.36px;top:314.83px;width:56.73px;height:8.0px;line-height:8.0px">688.443</div>
<div class="d r" style="left:835.09px;top:314.83px;width:56.73px;height:8.0px;line-height:8.0px">206.563</div>
<div class="d r" style="left:891.82px;top:314.83px;width:56.73px;height:8.0px;line-height:8.0px">895.006</div>
<div class="d r" style="left:948.55px;top:314.83px;width:56.73px;height:8.0px;line-height:8.0px">1.826</div>
<div class="d l" style="left:9.30px;top:324.64px;width:88.30px;height:8.0px;line-height:8.0px">Basilicata</div>
<div class="d r" style="left:97.60px;top:324.64px;width:56.73px;height:8.0px;line-height:8.0px">16</div>
<div class="d r" style="left:154.33px;top:324.64px;width:56.73px;height:8.0px;line-height:8.0px">0</div>
<div class="d r" style="left:211.06px;top:324.64px;width:56.73px;height:8.0px;line-height:8.0px">0</div>
<div class="d r" style="left:267.79px;top:324.64px;width:56.73px;height:8.0px;line-height:8.0px">507</div>
<div class="d r" style="left:324.52px;top:324.64px;width:56.73px;height:8.0px;line-height:8.0px">523</div>
<div class="d r" style="left:381.25px;top:324.64px;width:56.73px;height:8.0px;line-height:8.0px">26.004</div>
<div class="d r" style="left:437.98px;top:324.64px;width:56.73px;height:8.0px;line-height:8.0px">591</div>
<div class="d r" style="left:494.71px;top:324.64px;width:56.73px;height:8.0px;line-height:8.0px">27.118</div>
<div class="d r" style="left:551.44px;top:324.64px;width:56.73px;height:8.0px;line-height:8.0px">0</div>
<div class="d r" style="left:608.17px;top:324.64px;width:56.73px;height:8.0px;line-height:8.0px">27.118</div>
<div class="d r" style="left:664.90px;top:324.64px;width:56.73px;height:8.0px;line-height:8.0px">27</div>
<div class="d r" style="left:721.63px;top:324.64px;width:56.73px;height:8.0px;line-height:8.0px">214.790</div>
<div class="d r" style="left:778.36px;top:324.64px;width:56.73px;height:8.0px;line-height:8.0px">384.645</div>
<div class="d r" style="left:835.09px;top:324.64px;width:56.73px;height:8.0px;line-height:8.0px">19.081</div>
<div class="d r" style="left:891.82px;top:324.64px;width:56.73px;height:8.0px;line-height:8.0px">403.726</div>
<div class="d r" style="left:948.55px;top:324.64px;width:56.73px;height:8.0px;line-height:8.0px">774</div>
<div class="d l" style="left:9.30px;top:334.45px;width:88.30px;height:8.0px;line-height:8.0px">Molise</div>
<div class="d r" style="left:97.60px;top:334.45px;width:56.73px;height:8.0px;line-height:8.0px">1</div>
<div class="d r" style="left:154.33px;top:334.45px;width:56.73px;height:8.0px;line-height:8.0px">0</div>
<div class="d r" style="left:211.06px;top:334.45px;width:56.73px;height:8.0px;line-height:8.0px">0</div>
<div class="d r" style="left:267.79px;top:334.45px;width:56.73px;height:8.0px;line-height:8.0px">102</div>
<div class="d r" style="left:324.52px;top:334.45px;width:56.73px;height:8.0px;line-height:8.0px">103</div>
<div class="d r" style="left:381.25px;top:334.45px;width:56.73px;height:8.0px;line-height:8.0px">13.228</div>
<div class="d r" style="left:437.98px;top:334.45px;width:56.73px;height:8.0px;line-height:8.0px">492</div>
<div class="d r" style="left:494.71px;top:334.45px;width:56.73px;height:8.0px;line-height:8.0px">13.823</div>
<div class="d r" style="left:551.44px;top:334.45px;width:56.73px;height:8.0px;line-height:8.0px">0</div>
<div class="d r" style="left:608.17px;top:334.45px;width:56.73px;height:8.0px;line-height:8.0px">13.823</div>
<div class="d r" style="left:664.90px;top:334.45px;width:56.73px;height:8.0px;line-height:8.0px">0</div>
<div class="d r" style="left:721.63px;top:334.45px;width:56.73px;height:8.0px;line-height:8.0px">214.067</div>
<div class="d r" style="left:778.36px;top:334.45px;width:56.73px;height:8.0px;line-height:8.0px">234.356</div>
<div class="d r" style="left:835.09px;top:334.45px;width:56.73px;height:8.0px;line-height:8.0px">13.030</div>
<div class="d r" style="left:891.82px;top:334.45px;width:56.73px;height:8.0px;line-height:8.0px">247.386</div>
<div class="d r" style="left:948.55px;top:334.45px;width:56.73px;height:8.0px;line-height:8.0px">298</div>
<div class="d l" style="left:9.30px;top:344.26px;width:88.30px;height:8.0px;line-height:8.0px">Valle d’Aosta</div>
<div class="d r" style="left:97.60px;top:344.26px;width:56.73px;height:8.0px;line-height:8.0px">0</div>
<div class="d r" style="left:154.33px;top:344.26px;width:56.73px;height:8.0px;line-height:8.0px">0</div>
<div class="d r" style="left:211.06px;top:344.26px;width:56.73px;height:8.0px;line-height:8.0px">0</div>
<div class="d r" style="left:267.79px;top:344.26px;width:56.73px;height:8.0px;line-height:8.0px">28</div>
<div class="d r" style="left:324.52px;top:344.26px;width:56.73px;height:8.0px;line-height:8.0px">28</div>
<div class="d r" style="left:381.25px;top:344.26px;width:56.73px;height:8.0px;line-height:8.0px">11.214</div>
<div class="d r" style="left:437.98px;top:344.26px;width:56.73px;height:8.0px;line-height:8.0px">473</div>
<div class="d r" style="left:494.71px;top:344.26px;width:56.73px;height:8.0px;line-height:8.0px">11.031</div>
<div class="d r" style="left:551.44px;top:344.26px;width:56.73px;height:8.0px;line-height:8.0px">684</div>
<div class="d r" style="left:608.17px;top:344.26px;width:56.73px;height:8.0px;line-height:8.0px">11.715</div>
<div class="d r" style="left:664.90px;top:344.26px;width:56.73px;height:8.0px;line-height:8.0px">3</div>
<div class="d r" style="left:721.63px;top:344.26px;width:56.73px;height:8.0px;line-height:8.0px">69.502</div>
<div class="d r" style="left:778.36px;top:344.26px;width:56.73px;height:8.0px;line-height:8.0px">102.402</div>
<div class="d r" style="left:835.09px;top:344.26px;width:56.73px;height:8.0px;line-height:8.0px">44.190</div>
<div class="d r" style="left:891.82px;top:344.26px;width:56.73px;height:8.0px;line-height:8.0px">146.592</div>
<div class="d r" style="left:948.55px;top:344.26px;width:56.73px;height:8.0px;line-height:8.0px">474</div>
<div class="d bold c tt" style="left:9.30px;top:355.98px;width:88.30px;height:8.0px;line-height:8.0px"><span style="display:inline-block;transform:scaleX(0.876)">TOTALE</span></div>
<div class="d r bold tb" style="left:97.60px;top:355.86px;width:56.73px;height:8.0px;line-height:8.0px"><span style="color:#222">1.194</span></div>
<div class="d r bold tb" style="left:154.33px;top:355.86px;width:56.73px;height:8.0px;line-height:8.0px"><span style="color:#222">165</span></div>
<div class="d r bold tb" style="left:211.06px;top:355.86px;width:56.73px;height:8.0px;line-height:8.0px"><span style="color:#222">11</span></div>
<div class="d r bold tb" style="left:267.79px;top:355.86px;width:56.73px;height:8.0px;line-height:8.0px"><span style="color:#222">47.951</span></div>
<div class="d r bold tb" style="left:324.52px;top:355.86px;width:56.73px;height:8.0px;line-height:8.0px"><span style="color:#222">49.310</span></div>
<div class="d r bold tb" style="left:381.25px;top:355.86px;width:56.73px;height:8.0px;line-height:8.0px"><span style="color:#0b3a1c">4.115.889</span></div>
<div class="d r bold tb" style="left:437.98px;top:355.86px;width:56.73px;height:8.0px;line-height:8.0px"><span style="color:#6a0000">127.884</span></div>
<div class="d r bold tb" style="left:494.71px;top:355.86px;width:56.73px;height:8.0px;line-height:8.0px"><span style="color:#352800">4.139.605</span></div>
<div class="d r bold tb" style="left:551.44px;top:355.86px;width:56.73px;height:8.0px;line-height:8.0px"><span style="color:#352800">153.478</span></div>
<div class="d r bold tb" style="left:608.17px;top:355.86px;width:56.73px;height:8.0px;line-height:8.0px"><span style="color:#352800">4.293.083</span></div>
<div class="d r bold tb" style="left:664.90px;top:355.86px;width:56.73px;height:8.0px;line-height:8.0px"><span style="color:#352800">3.558</span></div>
<div class="d r bold tb" style="left:721.63px;top:355.86px;width:56.73px;height:8.0px;line-height:8.0px"><span style="color:#0b3058">30.384.547</span></div>
<div class="d r bold tb" style="left:778.36px;top:355.86px;width:56.73px;height:8.0px;line-height:8.0px"><span style="color:#181e2c">53.421.858</span></div>
<div class="d r bold tb" style="left:835.09px;top:355.86px;width:56.73px;height:8.0px;line-height:8.0px"><span style="color:#181e2c">21.678.499</span></div>
<div class="d r bold tb" style="left:891.82px;top:355.86px;width:56.73px;height:8.0px;line-height:8.0px"><span style="color:#181e2c">75.100.357</span></div>
<div class="d r bold tb" style="left:948.55px;top:355.86px;width:56.73px;height:8.0px;line-height:8.0px"><span style="color:#222">218.705</span></div>
<div class="note n0" style="top:382.89px;font-size:7.1px;">Note:</div>
<div class="note n1" style="top:397.07px;font-size:5.43px;">La Regione Abruzzo comunica che dal totale dei positivi è stato eliminato 1 caso in quanto già segnalato da altra Regione.</div>
<div class="note" style="top:403.73px;font-size:5.53px;">La Regione Emilia Romagna comunica che dal totale dei positivi sono stati eliminati 2 casi in quanto positivi a test antigenico ma non confermati da tampone molecolare.</div>
<div class="note" style="top:410.72px;font-size:5.575px;">La Regione Friuli Venezia Giulia comunica che a fronte di un problema di aggiornamento nei sistemi informativi regionali, i dati odierni non sono disponibili; vengono riportati, pertanto, i dati del giorno precedente.</div>
</div></body></html>
